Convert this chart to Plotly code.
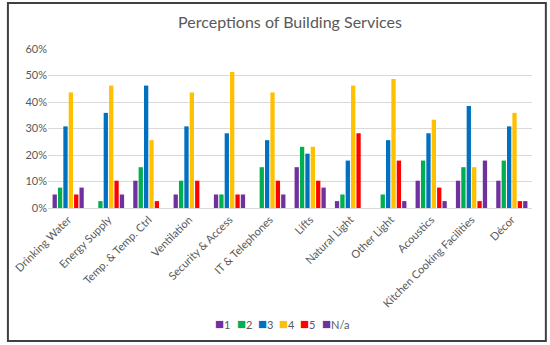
import plotly.graph_objects as go

categories = ["Drinking Water", "Energy Supply", "Temp. & Temp. Ctrl", "Ventilation",
              "Security & Access", "IT & Telephones", "Lifts", "Natural Light",
              "Other Light", "Acoustics", "Kitchen Cooking Facilities", "Décor"]
s1 = [5.1, 0, 10.3, 5.1, 5.1, 0, 15.4, 2.6, 0, 10.3, 10.3, 10.3]
s2 = [7.7, 2.6, 15.4, 10.3, 5.1, 15.4, 23.1, 5.1, 5.1, 17.9, 15.4, 17.9]
s3 = [30.8, 35.9, 46.2, 30.8, 28.2, 25.6, 20.5, 17.9, 25.6, 28.2, 38.5, 30.8]
s4 = [43.6, 46.2, 25.6, 43.6, 51.3, 43.6, 23.1, 46.2, 48.7, 33.3, 15.4, 35.9]
s5 = [5.1, 10.3, 2.6, 10.3, 5.1, 10.3, 10.3, 28.2, 17.9, 7.7, 2.6, 2.6]
sna = [7.7, 5.1, 0, 0, 5.1, 5.1, 7.7, 0, 2.6, 2.6, 17.9, 2.6]
series_names = ["1", "2", "3", "4", "5", "N/a"]
colors = ["#7030A0", "#00B050", "#0070C0", "#FFC000", "#FF0000", "#7030A0"]

W, H = 550, 345
L, R, T, B = 43, 18, 49, 137
pw, ph = W - L - R, H - T - B

def px_x(x):
    return (x - L) / pw

def px_y(y):
    return (H - B - y) / ph

fig = go.Figure()
for name, vals, c in zip(series_names, [s1, s2, s3, s4, s5, sna], colors):
    fig.add_trace(go.Bar(
        x=categories, y=[v / 100 for v in vals], name=name, showlegend=False,
        marker=dict(color=c, line=dict(width=0)),
    ))

fig.add_shape(type="rect", xref="paper", yref="paper",
              x0=px_x(2.5), x1=px_x(546), y0=px_y(341), y1=px_y(3),
              line=dict(color="#404040", width=2), fillcolor="rgba(0,0,0,0)", layer="below")

font = "Lato, 'Open Sans', sans-serif"

# manual legend
leg_x = [210, 231.5, 253, 274.5, 296, 317.5]
for xpix, name, c in zip(leg_x, series_names, colors):
    fig.add_annotation(xref="paper", yref="paper", x=px_x(xpix), y=px_y(323),
                       xanchor="left", yanchor="middle", showarrow=False,
                       text=f"<span style='color:{c};font-size:15px'>■</span>{name}",
                       font=dict(family=font, size=11, color="#595959"))

fig.update_layout(
    width=W, height=H,
    margin=dict(l=L, r=R, t=T, b=B),
    paper_bgcolor="white", plot_bgcolor="white",
    title=dict(text="Perceptions of Building Services", x=0.5, xanchor="center",
               xref="paper", y=1 - 22 / H, yanchor="middle",
               font=dict(family=font, size=16, color="#595959")),
    barmode="group", bargap=0.2, bargroupgap=0.2,
    font=dict(family=font, size=11, color="#595959"),
    xaxis=dict(tickangle=-45, showgrid=False, showline=True, linecolor="#D9D9D9",
               ticks="", tickfont=dict(size=11, color="#595959")),
    yaxis=dict(range=[0, 0.6], dtick=0.1, tickformat=".0%", showgrid=True,
               gridcolor="#D9D9D9", zeroline=False, ticks="",
               tickfont=dict(size=11, color="#595959")),
    showlegend=False,
)

fig.write_html("out.html", config={"displayModeBar": False},
               post_script="document.body.style.margin='0';document.body.style.overflow='hidden';")
